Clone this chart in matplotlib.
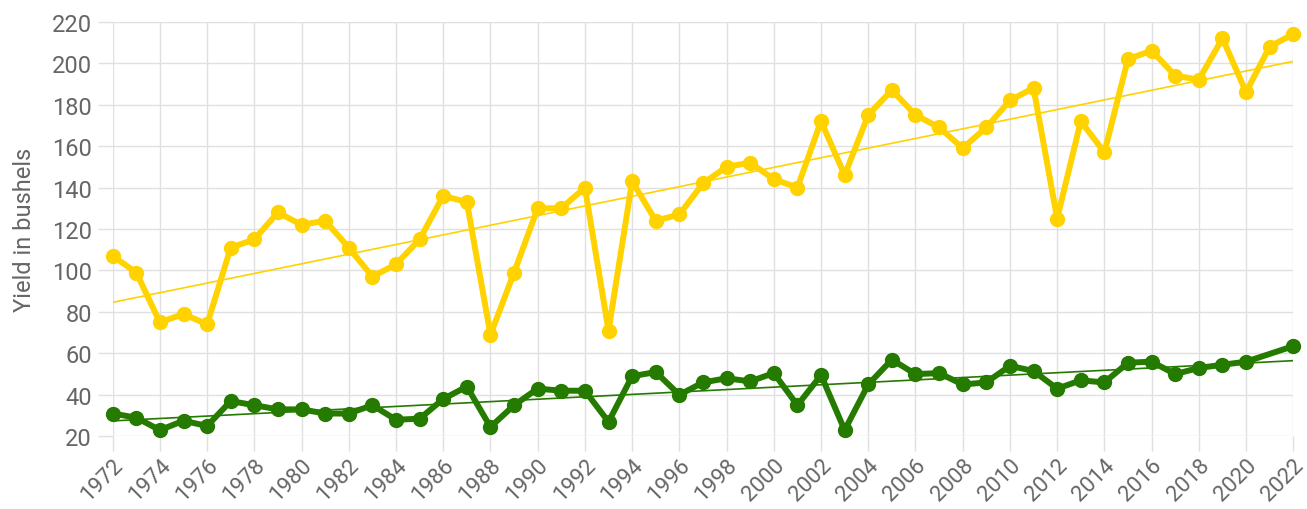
"""Yield per acre with linear trend lines, 1972-2022."""

import matplotlib.pyplot as plt
import numpy as np

plt.rcParams["font.family"] = ["Roboto", "DejaVu Sans"]

years = np.arange(1972, 2023)

corn_yield = [
    107, 99, 75, 79, 74, 111, 115, 128, 122, 124,
    111, 97, 103, 115, 136, 133, 69, 99, 130, 130,
    140, 71, 143, 124, 127, 142, 150, 152, 144, 140,
    172, 146, 175, 187, 175, 169, 159, 169, 182, 188,
    125, 172, 157, 202, 206, 194, 192, 212, 186, 208,
    214,
]

soy_yield = [
    31, 29, 23, 27.5, 25, 37, 35, 33, 33, 31,
    31, 35, 28, 28.5, 38, 44, 24.5, 35, 43, 42,
    42, 27, 49, 51, 40, 46, 48, 46.5, 50.5, 35,
    49.5, 23, 45, 57, 50, 50.5, 45, 46, 54, 51.5,
    43, 47, 46, 55.5, 56, 50, 53, 54.5, 56, np.nan,
    63.5,
]

y_ticks = list(range(20, 221, 20))
x_ticks = list(range(1972, 2023, 2))

CORN_COLOR = "#FFD200"
SOY_COLOR = "#257A00"
GRID_COLOR = "#E0E0E0"
TEXT_COLOR = "#666666"


def plot_series(ax, x, y, color):
    """Draw a thick line with markers plus its least-squares trend."""
    x = np.asarray(x, dtype=float)
    y = np.asarray(y, dtype=float)
    ok = ~np.isnan(y)
    ax.plot(x[ok], y[ok], color=color, lw=4.3, marker="o", ms=10,
            solid_joinstyle="round", zorder=3, clip_on=False)
    slope, intercept = np.polyfit(x[ok], y[ok], 1)
    ends = np.array([x[0], x[-1]])
    ax.plot(ends, slope * ends + intercept, color=color, lw=1.2, zorder=4)


fig = plt.figure(figsize=(13.07, 5.10), dpi=100)
ax = fig.add_axes([0.0862, 0.1425, 0.9033, 0.8130])

plot_series(ax, years, corn_yield, CORN_COLOR)
plot_series(ax, years, soy_yield, SOY_COLOR)

ax.set_xlim(1972, 2022)
ax.set_ylim(20, 220)
ax.set_xticks(x_ticks)
ax.set_yticks(y_ticks)
ax.set_xticklabels([str(y) for y in x_ticks], rotation=45, ha="right",
                   va="top", rotation_mode="anchor", fontsize=16)

ax.grid(True, color=GRID_COLOR, lw=1)
ax.set_axisbelow(True)
for side in ax.spines.values():
    side.set_visible(False)
ax.tick_params(axis="both", length=11, width=1, color=GRID_COLOR,
               labelcolor=TEXT_COLOR)
ax.tick_params(axis="y", pad=4, labelsize=17)
ax.tick_params(axis="x", pad=2)

ax.set_ylabel("Yield in bushels", color=TEXT_COLOR, fontsize=17, labelpad=11)

fig.savefig("out.png", dpi=100)
plt.close(fig)
